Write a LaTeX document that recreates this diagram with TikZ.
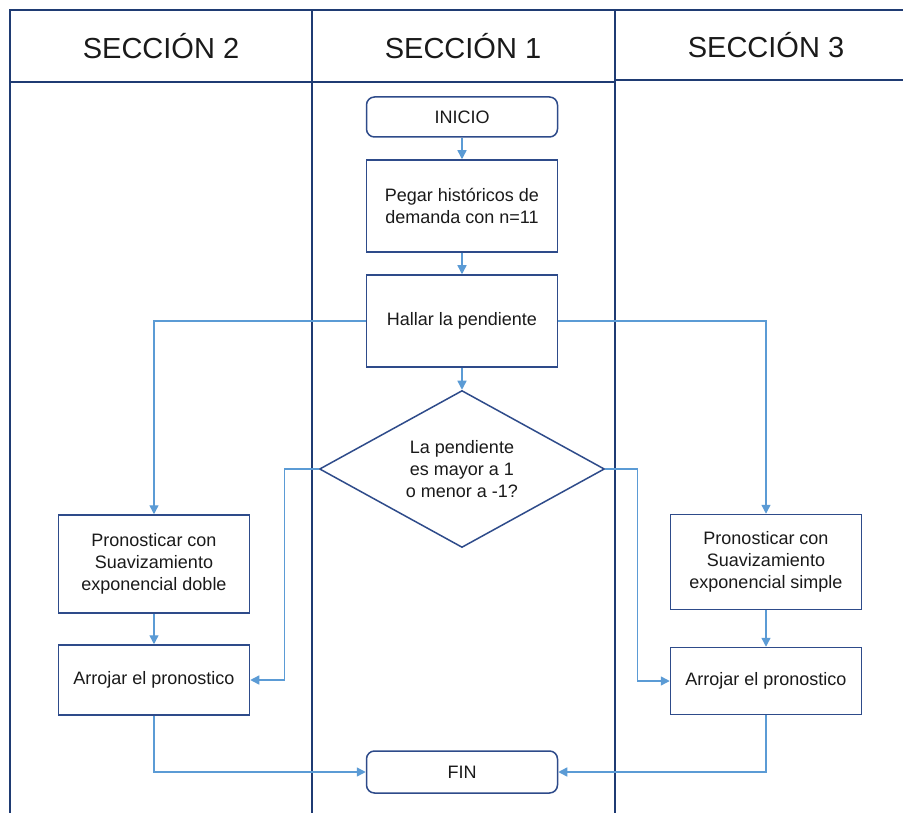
\documentclass[tikz,border=0pt]{standalone}
\usepackage{fontspec}
\setmainfont{Liberation Sans}
\usetikzlibrary{arrows.meta,shapes.geometric}
\definecolor{lane}{HTML}{1F3B73}
\definecolor{boxline}{HTML}{2E4B8A}
\definecolor{flow}{HTML}{5B9BD5}
\definecolor{ink}{HTML}{1A1A1A}
\begin{document}
\begin{tikzpicture}[x=1pt,y=-1pt,
  laneline/.style={draw=lane, line width=1.3pt},
  header/.style={font=\fontsize{29}{34}\selectfont, text=ink},
  proc/.style={draw=boxline, line width=1.5pt, fill=white, minimum width=191pt,
    align=center, font=\fontsize{18}{22}\selectfont, text=ink, inner sep=0pt},
  term/.style={proc, rounded corners=8pt},
  decision/.style={diamond, draw=boxline, line width=1.5pt, fill=white,
    minimum width=285pt, minimum height=157pt, aspect=1.815, inner sep=0pt,
    align=center, font=\fontsize{18}{22}\selectfont, text=ink},
  flowline/.style={draw=flow, line width=1.4pt, -{Triangle[length=9pt,width=9pt]}},
]
\useasboundingbox (0,0) rectangle (903,813);

% swimlane frame
\draw[laneline] (10,813) -- (10,10) -- (903,10);
\draw[laneline] (312,10) -- (312,813);
\draw[laneline] (615,10) -- (615,813);
\draw[laneline] (10,82) -- (615,82);
\draw[laneline] (615,80) -- (903,80);

% lane titles
\node[header] (h2) at (161,46) {SECCIÓN 2};
\node[header] (h1) at (463,46) {SECCIÓN 1};
\node[header] (h3) at (766,45) {SECCIÓN 3};

% flowchart nodes
\node[term, minimum height=40pt] (inicio) at (462,117) {INICIO};
\node[proc, minimum height=92pt] (pegar) at (462,206) {Pegar históricos de\\demanda con n=11};
\node[proc, minimum height=92pt] (hallar) at (462,321) {Hallar la pendiente};
\node[decision] (cond) at (462,469) {La pendiente\\es mayor a 1\\o menor a -1?};
\node[proc, minimum height=98pt] (doble) at (154,564) {Pronosticar con\\Suavizamiento\\exponencial doble};
\node[proc, minimum height=70pt] (arrL) at (154,680) {Arrojar el pronostico};
\node[proc, minimum height=95pt] (simple) at (766,562) {Pronosticar con\\Suavizamiento\\exponencial simple};
\node[proc, minimum height=67pt] (arrR) at (766,681) {Arrojar el pronostico};
\node[term, minimum height=42pt] (fin) at (462,772) {FIN};

% connectors
\draw[flowline] (inicio) -- (pegar);
\draw[flowline] (pegar) -- (hallar);
\draw[flowline] (hallar) -- (cond);
\draw[flowline] (hallar.west) -| (doble.north);
\draw[flowline] (hallar.east) -| (simple.north);
\draw[flowline] (doble) -- (arrL);
\draw[flowline] (simple) -- (arrR);
\draw[flowline] (cond.west) -- ++(-34,0) |- (arrL.east);
\draw[flowline] (cond.east) -- ++(32,0) |- (arrR.west);
\draw[flowline] (arrL.south) |- (fin.west);
\draw[flowline] (arrR.south) |- (fin.east);
\end{tikzpicture}
\end{document}
